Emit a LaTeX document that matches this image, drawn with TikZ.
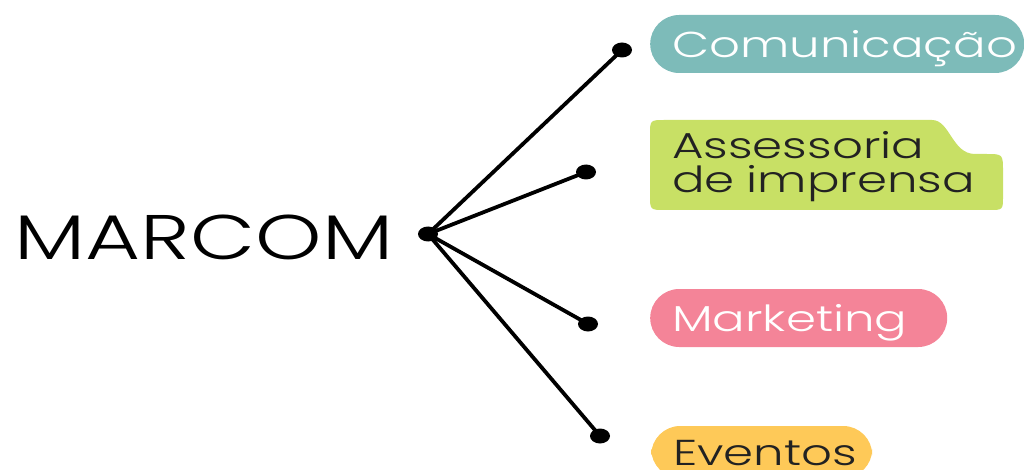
\documentclass[tikz,border=0pt]{standalone}
\usepackage{fontspec}
\setmainfont{Poppins}[UprightFont=* Light,FakeStretch=1.34,WordSpace=1.3]
\usetikzlibrary{backgrounds,shapes.geometric}
\definecolor{tealc}{HTML}{7DBBB9}
\definecolor{limec}{HTML}{C8E065}
\definecolor{pinkc}{HTML}{F48498}
\definecolor{yellowc}{HTML}{FEC958}
\definecolor{darktxt}{HTML}{222222}

\begin{document}
\begin{tikzpicture}[x=1pt,y=-1pt,
		dot/.style={ellipse,fill=black,inner sep=0pt,minimum width=20pt,minimum height=15pt},
		link/.style={line width=3.8pt},
		pill/.style={anchor=west,rounded corners=29pt,minimum height=58pt,inner xsep=22pt,inner ysep=0pt,
			text height=27pt,text depth=0pt,align=left,font=\fontsize{36}{34}\selectfont}]
	\useasboundingbox (0,0) rectangle (1024,470);
	\node[font=\fontsize{63}{63}\selectfont] (marcom) at (204,237) {MARCOM};
	\node[dot] (hub) at (428,234) {};
	\node[dot] (d1) at (622,50) {};
	\node[dot] (d2) at (586,172) {};
	\node[dot] (d3) at (588,324) {};
	\node[dot] (d4) at (600,436) {};
	\foreach \d in {d1,d2,d3,d4}
		\draw[link] (hub.center) -- (\d.center);
	\node[pill,fill=tealc,text=white,text width=330pt] (com) at (650,44) {Comunicação};
	\node[pill,text=darktxt,text width=309pt,text height=,text depth=] (press) at (650,167) {Assessoria\\de imprensa};
	\node[pill,fill=pinkc,text=white,text width=253pt] (mkt) at (650,318) {Marketing};
	\node[pill,fill=yellowc,text=darktxt,text width=177pt,minimum height=52pt] (evt) at (651,452) {Eventos};
	\begin{scope}[on background layer]
		\fill[limec] (665,120) -- (932,120) .. controls (950,120) and (952,154) .. (975,154)
			-- (986,154) .. controls (1003,154) .. (1003,172) -- (1003,196)
			.. controls (1003,210) .. (989,210) -- (665,210) .. controls (650,210) .. (650,195)
			-- (650,135) .. controls (650,120) .. (665,120) -- cycle;
	\end{scope}
\end{tikzpicture}
\end{document}
